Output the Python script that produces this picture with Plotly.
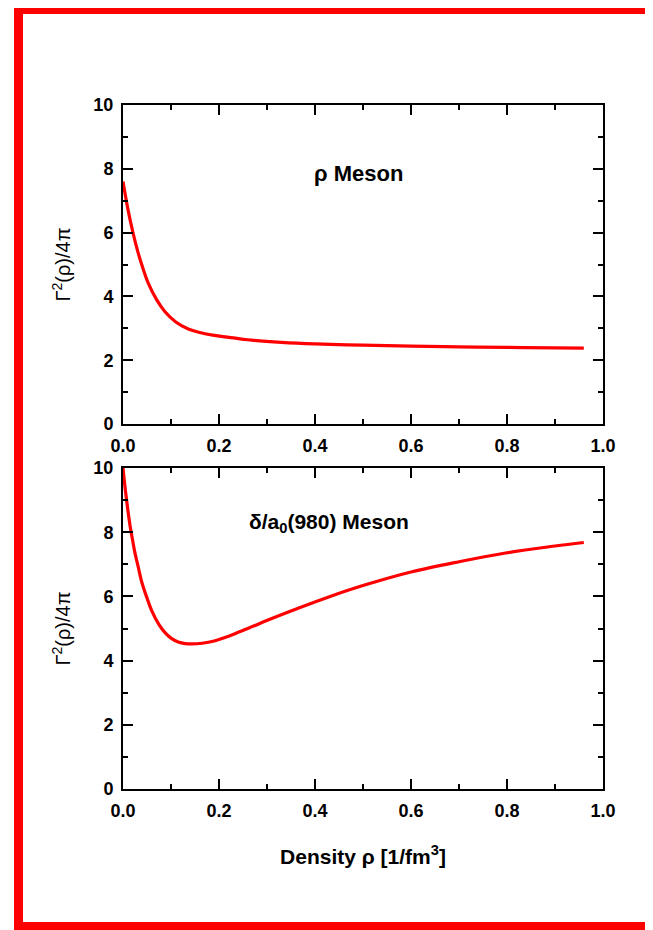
import plotly.graph_objects as go
from plotly.subplots import make_subplots

# Data
rho_density = [0.0, 0.01, 0.02, 0.03, 0.04, 0.053, 0.07, 0.0875, 0.11, 0.136, 0.16, 0.19,
               0.23, 0.26, 0.33, 0.40, 0.50, 0.60, 0.70, 0.80, 0.90, 0.96]
rho_gamma = [7.6, 6.75, 6.05, 5.45, 4.95, 4.40, 3.90, 3.52, 3.20, 2.98, 2.87, 2.78,
             2.70, 2.64, 2.56, 2.51, 2.47, 2.44, 2.42, 2.40, 2.385, 2.38]

delta_density = [0.0, 0.005, 0.01, 0.015, 0.02, 0.025, 0.032, 0.039, 0.05, 0.06, 0.075, 0.0875,
                 0.1, 0.115, 0.13, 0.143, 0.165, 0.19, 0.22, 0.26, 0.31, 0.365, 0.43, 0.505,
                 0.60, 0.70, 0.80, 0.90, 0.96]
delta_gamma = [10.0, 9.3, 8.7, 8.17, 7.75, 7.35, 6.9, 6.45, 5.95, 5.55, 5.12, 4.87,
               4.70, 4.58, 4.53, 4.52, 4.54, 4.61, 4.76, 5.0, 5.31, 5.63, 5.99, 6.36,
               6.76, 7.08, 7.36, 7.57, 7.68]

x_ticks = [0.0, 0.2, 0.4, 0.6, 0.8, 1.0]
x_tick_labels = ["<b>0.0</b>", "<b>0.2</b>", "<b>0.4</b>", "<b>0.6</b>", "<b>0.8</b>", "<b>1.0</b>"]
y_ticks = [0, 2, 4, 6, 8, 10]
y_tick_labels = ["<b>0</b>", "<b>2</b>", "<b>4</b>", "<b>6</b>", "<b>8</b>", "<b>10</b>"]

fig = make_subplots(rows=2, cols=1)
fig.add_trace(go.Scatter(x=rho_density, y=rho_gamma, mode="lines",
                         line=dict(color="#ff0000", width=3.2, shape="spline", smoothing=1.0),
                         showlegend=False), row=1, col=1)
fig.add_trace(go.Scatter(x=delta_density, y=delta_gamma, mode="lines",
                         line=dict(color="#ff0000", width=3.2, shape="spline", smoothing=1.0),
                         showlegend=False), row=2, col=1)

# page has an 8px body margin: figure coords = page coords - 8
W, H = 645, 922
L, R, T, B = 115, 50, 97, 141
ph = H - T - B   # 684
pw = W - L - R   # 480

def py(p):  # page y pixel -> paper fraction
    return (789 - p) / ph

def px(p):  # page x pixel -> paper fraction
    return (p - 123) / pw

FONT = "Liberation Sans, Arial"
tickfont = dict(family=FONT, size=18, color="black")
axis_common = dict(showline=True, linecolor="black", linewidth=2, mirror="ticks",
                   ticks="inside", ticklen=10, tickwidth=2, tickcolor="black",
                   showgrid=False, zeroline=False, tickfont=tickfont, ticklabelstandoff=4)

for r in (1, 2):
    fig.update_xaxes(range=[0, 1.0], tickvals=x_ticks, ticktext=x_tick_labels,
                     minor=dict(ticks="inside", ticklen=5, tickwidth=2, tickcolor="black", dtick=0.1),
                     row=r, col=1, **axis_common)
    fig.update_yaxes(range=[0, 10], tickvals=y_ticks, ticktext=y_tick_labels,
                     minor=dict(ticks="inside", ticklen=5, tickwidth=2, tickcolor="black", dtick=1),
                     title=dict(text="Γ<sup>2</sup>(ρ)/4π", font=dict(family=FONT, size=20, color="black"),
                                standoff=17),
                     row=r, col=1, **axis_common)

fig.update_layout(
    xaxis=dict(domain=[0, 1]),
    xaxis2=dict(domain=[0, 1], title=dict(text="<b>Density ρ [1/fm<sup>3</sup>]</b>",
                                          font=dict(family=FONT, size=21, color="black"),
                                          standoff=30)),
    yaxis=dict(domain=[py(424), 1.0]),
    yaxis2=dict(domain=[0.0, py(468)]),
    width=W, height=H,
    margin=dict(l=L, r=R, t=T, b=B),
    paper_bgcolor="white", plot_bgcolor="white",
    annotations=[
        dict(text="<b>ρ Meson</b>", x=0.49, y=7.85, xref="x", yref="y", showarrow=False,
             font=dict(family=FONT, size=22, color="black")),
        dict(text="<b>δ/a<sub>0</sub>(980) Meson</b>", x=0.43, y=8.3, xref="x2", yref="y2", showarrow=False,
             font=dict(family=FONT, size=21, color="black")),
    ],
    shapes=[
        dict(type="rect", xref="paper", yref="paper", x0=px(14), x1=px(23), y0=py(931), y1=py(7),
             fillcolor="#ff0000", line=dict(width=0), layer="above"),
        dict(type="rect", xref="paper", yref="paper", x0=px(14), x1=px(660), y0=py(14), y1=py(7),
             fillcolor="#ff0000", line=dict(width=0), layer="above"),
        dict(type="rect", xref="paper", yref="paper", x0=px(14), x1=px(660), y0=py(931), y1=py(922),
             fillcolor="#ff0000", line=dict(width=0), layer="above"),
    ],
)

fig.write_html("out.html")
